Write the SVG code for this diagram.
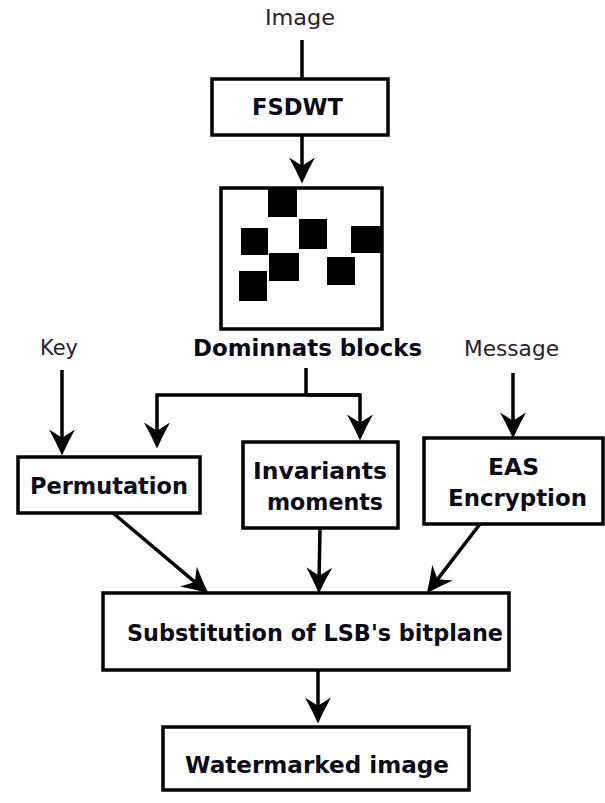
<svg xmlns="http://www.w3.org/2000/svg" width="605" height="803" viewBox="0 0 605 803">
<defs>
<style>
.box{fill:#fff;stroke:#000;stroke-width:3.5}
.blk{fill:#000}
.ln{fill:none;stroke:#000;stroke-width:3.5}
.arr{marker-end:url(#ah)}
.b{font-family:"DejaVu Sans","Liberation Sans",sans-serif;font-weight:bold;font-size:23px;fill:#0a0a1a}
.r{font-family:"DejaVu Sans","Liberation Sans",sans-serif;font-size:21px;fill:#2a2030}
</style>
<marker id="ah" markerUnits="userSpaceOnUse" markerWidth="27" markerHeight="27" viewBox="0 0 26 26" refX="15" refY="13" orient="auto">
<path d="M25,13 Q12,7.2 0,0.5 L8,13 L0,25.5 Q12,18.8 25,13 Z" fill="#000"/>
</marker>
</defs>
<rect width="605" height="803" fill="#fff"/>

<g id="connectors">
<line class="ln" x1="302" y1="40" x2="302" y2="79"/>
<line class="ln arr" x1="302" y1="135" x2="302" y2="173"/>
<polyline class="ln" points="306,368 306,395"/>
<polyline class="ln arr" points="360,395 157,395 157,438"/>
<polyline class="ln arr" points="306,395 360,395 360,430"/>
<line class="ln arr" x1="62" y1="370" x2="62" y2="445"/>
<line class="ln arr" x1="513" y1="373" x2="513" y2="428"/>
<line class="ln arr" x1="113" y1="513" x2="200.35" y2="586.56"/>
<line class="ln arr" x1="320" y1="528" x2="319" y2="583"/>
<line class="ln arr" x1="480" y1="524" x2="433.09" y2="585.07"/>
<line class="ln arr" x1="318" y1="670" x2="318" y2="713"/>
</g>

<g id="image-label"><text class="r" x="265" y="25" textLength="70" lengthAdjust="spacingAndGlyphs">Image</text></g>

<g id="fsdwt">
<rect class="box" x="212" y="79" width="176" height="56"/>
<text class="b" x="252" y="115" textLength="91" lengthAdjust="spacingAndGlyphs">FSDWT</text>
</g>

<g id="dominant-blocks">
<rect class="box" x="221" y="188" width="161" height="141"/>
<rect class="blk" x="268" y="188" width="29" height="29"/>
<rect class="blk" x="241" y="228" width="27" height="27"/>
<rect class="blk" x="299" y="219" width="28" height="30"/>
<rect class="blk" x="351" y="226" width="31" height="27"/>
<rect class="blk" x="269" y="253" width="30" height="28"/>
<rect class="blk" x="327" y="257" width="28" height="28"/>
<rect class="blk" x="239" y="271" width="28" height="30"/>
<text class="b" x="193" y="356" textLength="229" lengthAdjust="spacingAndGlyphs">Dominnats blocks</text>
</g>

<g id="key-label"><text class="r" x="40" y="355" textLength="38" lengthAdjust="spacingAndGlyphs">Key</text></g>
<g id="message-label"><text class="r" x="464" y="356" textLength="95" lengthAdjust="spacingAndGlyphs">Message</text></g>

<g id="permutation">
<rect class="box" x="18" y="457" width="182" height="56"/>
<text class="b" x="30" y="494" textLength="158" lengthAdjust="spacingAndGlyphs">Permutation</text>
</g>

<g id="invariants">
<rect class="box" x="243" y="442" width="155" height="86"/>
<text class="b" x="253" y="479" textLength="134" lengthAdjust="spacingAndGlyphs">Invariants</text>
<text class="b" x="267" y="510" textLength="116" lengthAdjust="spacingAndGlyphs">moments</text>
</g>

<g id="eas">
<rect class="box" x="424" y="438" width="179" height="86"/>
<text class="b" x="488" y="475" textLength="51" lengthAdjust="spacingAndGlyphs">EAS</text>
<text class="b" x="448" y="506" textLength="139" lengthAdjust="spacingAndGlyphs">Encryption</text>
</g>

<g id="substitution">
<rect class="box" x="103" y="593" width="406" height="77"/>
<text class="b" x="127" y="641" textLength="376" lengthAdjust="spacingAndGlyphs">Substitution of LSB's bitplane</text>
</g>

<g id="watermarked">
<rect class="box" x="163" y="727" width="306" height="63"/>
<text class="b" x="185" y="773" textLength="264" lengthAdjust="spacingAndGlyphs">Watermarked image</text>
</g>
</svg>
